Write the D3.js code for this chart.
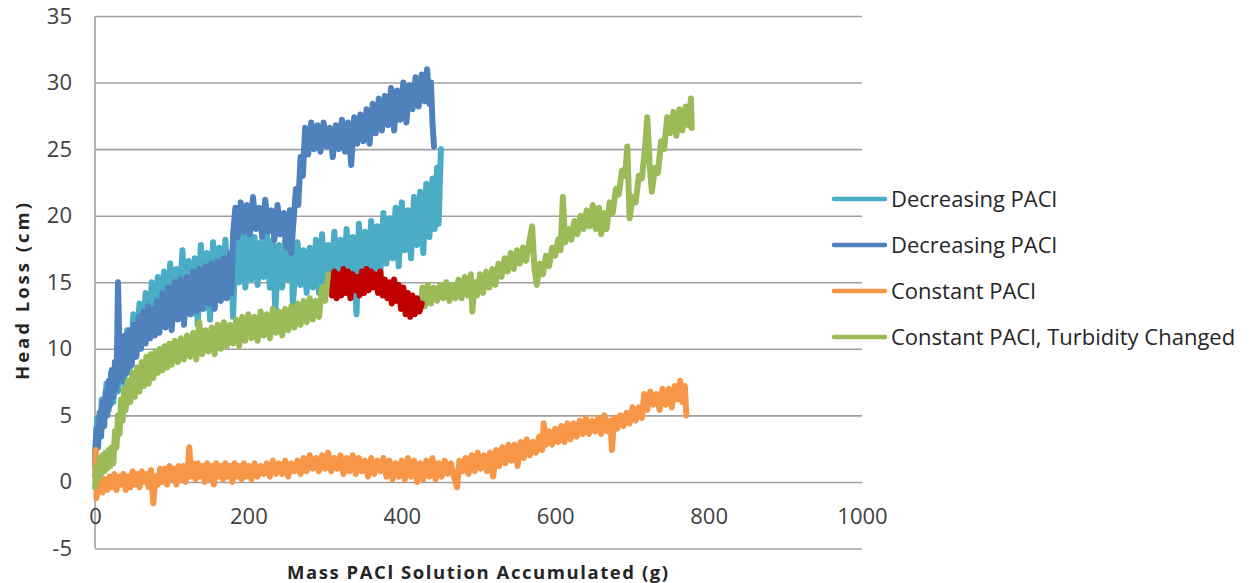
<!DOCTYPE html>
<html>
<head>
<meta charset="utf-8">
<script src="https://cdn.jsdelivr.net/npm/d3@7"></script>
<style>
  html, body { margin: 0; padding: 0; background: #fff; }
  svg { display: block; }
  .tick text { font-family: "Open Sans", "Noto Sans", sans-serif; fill: #404040; }
</style>
</head>
<body>
<svg id="chart" width="1250" height="583"></svg>
<script>
// Head loss (cm) against accumulated PACl solution mass (g)
const seriesNames = ["Decreasing PACl", "Decreasing PACl", "Constant PACl", "Constant PACl, Turbidity Changed"];
const seriesColors = ["#4BACC6", "#4F81BD", "#F79646", "#9BBB59"];
const segmentColor = "#C00000";

const xTicks = [0, 200, 400, 600, 800, 1000];
const yTicks = [-5, 0, 5, 10, 15, 20, 25, 30, 35];

// Decreasing PACl, first run
const decreasingA = [[0,2.2],[3,4.8],[6,3.6],[9,6.2],[12,4.6],[15,7.4],[18,5.4],[21,8.2],[24,6.0],[27,9.0],[30,6.8],[34,10.2],[38,7.4],[42,11.4],[46,8.6],[50,12.6],[54,9.8],[58,13.4],[62,10.6],[66,14.2],[70,11.2],[74,15.0],[78,11.6],[82,15.4],[86,12.4],[90,15.8],[94,12.0],[98,16.4],[102,12.8],[106,16.0],[110,13.0],[114,17.4],[118,13.2],[122,16.6],[126,12.6],[130,16.8],[134,11.8],[138,17.8],[142,13.0],[146,17.2],[150,12.2],[154,18.0],[158,13.6],[162,17.6],[166,13.8],[170,18.2],[174,14.4],[178,17.0],[180,12.4],[184,18.8],[188,15.0],[192,19.2],[196,14.6],[200,18.6],[204,15.2],[208,18.4],[212,14.8],[216,18.0],[220,15.4],[224,18.6],[228,14.6],[232,18.2],[235,12.8],[240,17.8],[244,14.6],[248,18.4],[252,15.2],[256,17.6],[258,13.4],[264,18.0],[268,14.8],[272,17.4],[276,14.2],[280,17.6],[284,14.6],[288,18.2],[292,14.2],[296,18.6],[300,15.0],[304,17.8],[308,14.6],[312,18.8],[316,15.2],[320,18.2],[324,15.0],[328,19.0],[332,15.4],[336,18.4],[341,12.6],[344,19.4],[348,15.8],[352,18.8],[356,15.2],[360,19.6],[364,16.0],[368,19.2],[372,15.6],[376,20.2],[380,16.4],[384,19.8],[388,16.8],[392,20.6],[396,16.2],[400,21.0],[404,17.4],[408,20.4],[412,16.8],[416,21.4],[420,17.8],[424,21.8],[428,17.2],[432,22.4],[436,18.4],[440,22.8],[443,19.0],[446,23.6],[448,19.4],[451,25.0]];

// Decreasing PACl, second run
const decreasingB = [[0,1.2],[2,4.0],[4,2.6],[6,5.2],[8,3.4],[10,6.0],[12,4.2],[14,6.8],[16,5.0],[18,7.6],[20,5.8],[22,8.4],[24,6.4],[26,9.0],[28,7.0],[30,15.0],[32,9.6],[34,10.4],[36,7.6],[39,11.0],[42,8.2],[45,11.4],[48,8.8],[51,11.8],[54,9.4],[57,12.4],[60,10.0],[63,12.8],[66,10.4],[69,13.2],[72,10.8],[75,13.0],[78,11.0],[81,13.6],[84,11.2],[88,14.2],[92,11.6],[96,14.6],[100,11.4],[104,15.0],[108,12.2],[112,15.2],[116,11.8],[120,15.4],[124,12.6],[128,15.8],[132,12.8],[136,16.0],[140,13.0],[144,16.2],[148,13.4],[152,16.4],[156,13.0],[160,16.6],[164,13.6],[168,16.8],[172,13.8],[176,17.2],[178,14.2],[180,18.6],[183,20.6],[186,18.4],[190,21.0],[194,18.8],[198,20.8],[202,18.6],[206,21.4],[210,19.0],[214,20.6],[218,18.4],[222,21.2],[226,18.8],[230,20.4],[234,18.2],[238,20.8],[242,18.6],[246,20.2],[250,17.6],[254,20.4],[256,17.2],[258,19.0],[262,22.0],[265,20.8],[268,24.4],[271,23.0],[274,26.6],[278,24.6],[282,27.0],[286,25.0],[290,26.8],[294,24.8],[298,27.0],[302,25.2],[306,26.6],[310,24.4],[314,26.8],[318,25.0],[322,27.2],[326,24.8],[330,27.0],[334,23.8],[338,27.4],[342,25.4],[346,27.6],[350,25.6],[354,28.0],[358,25.4],[362,28.4],[366,26.2],[370,28.8],[374,26.4],[378,29.0],[382,26.8],[386,29.6],[390,26.4],[394,29.4],[398,27.2],[402,30.0],[406,27.0],[410,29.8],[414,28.0],[418,30.4],[422,28.2],[426,30.6],[430,28.6],[433,31.0],[436,28.4],[438,30.0],[440,27.0],[442,25.2]];

// Constant PACl
const constant = [[0,0.4],[1,2.4],[2,-1.2],[4,-0.4],[7,0.4],[10,-0.8],[13,0.2],[16,-0.6],[19,0.4],[22,-0.4],[25,0.6],[28,-0.6],[31,0.4],[34,-0.2],[37,0.6],[40,-0.6],[43,0.4],[46,-0.4],[49,0.8],[52,-0.2],[55,0.6],[58,-0.4],[61,0.8],[64,0.0],[67,0.6],[70,-0.4],[73,0.9],[76,-1.6],[79,0.4],[82,-0.2],[85,1.0],[88,0.0],[91,1.0],[94,-0.2],[97,1.2],[100,0.2],[103,1.0],[106,-0.2],[109,1.2],[112,0.2],[115,1.2],[118,0.0],[121,1.0],[123,2.6],[125,0.4],[128,1.4],[131,0.2],[134,1.4],[137,0.4],[140,1.2],[143,0.0],[146,1.4],[149,0.2],[152,1.2],[155,-0.2],[158,1.4],[161,0.4],[164,1.2],[167,0.2],[170,1.4],[173,0.4],[176,1.2],[179,0.0],[182,1.4],[185,0.4],[188,1.2],[191,0.2],[194,1.4],[197,0.4],[200,1.2],[204,0.2],[208,1.4],[212,0.4],[216,1.2],[220,0.6],[224,1.4],[228,0.4],[232,1.6],[236,0.6],[240,1.4],[244,0.6],[248,1.6],[252,0.4],[256,1.4],[260,0.8],[264,1.6],[268,0.6],[272,1.8],[276,0.8],[280,2.0],[284,1.0],[288,1.8],[292,0.8],[296,2.0],[300,1.0],[304,2.2],[308,0.8],[312,1.8],[316,1.0],[320,2.0],[324,0.6],[328,1.8],[332,0.8],[336,2.0],[340,0.6],[344,1.8],[348,0.8],[352,1.6],[356,0.4],[360,1.8],[364,0.6],[368,1.6],[372,0.8],[376,1.8],[380,0.4],[384,1.6],[388,0.2],[392,1.4],[396,0.4],[400,1.6],[404,0.2],[408,1.8],[412,0.4],[416,1.6],[420,0.0],[424,1.4],[428,0.2],[432,1.6],[436,0.4],[440,1.8],[444,0.2],[448,1.4],[452,0.4],[456,1.6],[460,0.6],[464,1.4],[468,0.4],[472,-0.4],[475,1.6],[479,0.8],[483,1.8],[487,0.6],[491,2.0],[495,0.8],[499,2.2],[503,1.0],[507,2.0],[511,0.8],[515,2.2],[519,0.4],[523,2.4],[527,1.2],[531,2.6],[535,1.4],[539,2.8],[543,1.6],[547,2.8],[551,1.2],[555,3.0],[559,1.8],[563,3.2],[567,2.0],[571,3.0],[575,2.2],[579,3.4],[583,2.4],[585,4.4],[588,2.8],[592,3.8],[596,2.8],[600,4.0],[604,3.0],[608,4.2],[612,3.0],[616,4.4],[620,3.2],[624,4.4],[628,3.4],[632,4.6],[636,3.6],[640,4.8],[644,3.6],[648,4.6],[652,3.8],[656,4.8],[660,3.6],[664,5.0],[668,3.8],[672,4.6],[674,2.4],[677,4.8],[681,4.0],[685,5.0],[689,4.2],[693,5.2],[697,4.4],[701,5.6],[705,4.6],[709,5.6],[713,4.8],[716,6.6],[720,5.4],[724,6.8],[728,5.8],[732,6.6],[736,5.4],[740,7.0],[744,5.8],[748,7.0],[752,5.6],[756,7.2],[760,6.2],[763,7.6],[766,6.0],[769,7.2],[771,5.0]];

// Constant PACl with turbidity changed (before and after the highlighted span)
const turbidityEarly = [[0,-0.4],[2,1.2],[4,0.2],[6,1.8],[8,0.6],[10,2.0],[12,0.8],[14,2.2],[16,1.0],[18,2.4],[20,1.2],[22,2.6],[24,1.4],[26,3.8],[28,2.6],[30,5.0],[32,3.6],[34,6.2],[36,4.6],[38,7.0],[40,5.4],[43,7.6],[46,6.0],[49,8.2],[52,6.4],[55,8.6],[58,6.8],[61,9.0],[64,7.2],[67,9.4],[70,7.4],[73,9.6],[76,7.8],[79,9.8],[82,8.2],[85,10.0],[88,8.4],[91,10.2],[94,8.6],[97,10.4],[100,8.8],[104,10.6],[108,9.0],[112,10.8],[116,9.2],[120,11.0],[124,9.4],[128,11.2],[132,9.2],[136,12.0],[140,9.6],[144,11.4],[148,9.8],[152,11.6],[156,9.6],[160,11.8],[164,10.0],[168,12.0],[172,10.2],[176,11.8],[180,10.4],[184,12.2],[188,10.2],[192,12.4],[196,10.6],[200,12.6],[204,10.8],[208,12.4],[212,10.6],[216,12.8],[220,11.0],[224,12.6],[228,10.8],[232,13.0],[236,11.2],[240,12.8],[244,11.0],[248,13.0],[252,11.4],[256,13.2],[260,11.6],[264,13.4],[268,11.8],[272,13.6],[276,12.0],[280,13.8],[284,12.2],[288,13.6],[292,12.4],[296,14.6],[300,13.6],[304,15.6],[306,14.4],[309,15.2]];
const turbidityLate = [[424,13.0],[427,14.6],[430,13.2],[434,14.8],[438,13.4],[442,14.6],[446,13.6],[450,14.8],[454,13.8],[458,15.0],[462,13.6],[466,14.8],[470,13.8],[474,15.2],[478,13.8],[482,15.4],[486,14.0],[490,15.6],[492,12.8],[495,15.0],[498,14.0],[502,15.6],[506,14.2],[510,15.8],[514,14.6],[518,16.0],[522,14.8],[526,16.4],[530,15.4],[534,16.8],[538,15.8],[542,17.2],[546,16.0],[550,17.4],[554,16.4],[558,17.6],[562,16.6],[566,18.0],[570,19.2],[573,16.0],[576,14.8],[580,16.4],[584,15.6],[588,17.0],[592,16.2],[596,17.6],[600,17.0],[604,18.2],[607,17.4],[610,21.4],[613,18.0],[617,19.0],[621,18.2],[625,19.6],[629,18.6],[633,20.0],[637,19.0],[641,20.4],[645,19.2],[649,20.8],[653,19.0],[657,20.6],[660,18.6],[664,20.2],[667,19.0],[671,21.0],[675,20.2],[679,22.0],[683,21.6],[687,23.4],[691,23.0],[694,25.2],[697,19.8],[701,21.4],[705,21.0],[709,23.0],[713,22.8],[717,25.0],[720,27.4],[723,24.0],[726,21.8],[730,23.6],[734,23.2],[738,25.6],[742,25.0],[746,27.4],[750,26.2],[754,27.8],[758,26.0],[762,28.0],[766,26.4],[770,28.2],[774,26.8],[777,28.8],[778,26.6]];

// Highlighted span of the turbidity run
const turbiditySpan = [[309,14.0],[312,15.8],[315,13.8],[318,15.6],[321,14.0],[324,16.0],[327,14.2],[330,15.8],[333,13.8],[336,15.6],[339,14.4],[342,15.4],[345,14.0],[348,15.8],[351,14.2],[354,16.0],[357,14.4],[360,15.8],[363,14.6],[366,15.6],[369,14.2],[372,15.8],[375,14.0],[378,15.2],[381,13.8],[384,15.0],[387,13.4],[390,15.2],[393,13.6],[396,14.8],[399,13.0],[402,14.6],[405,12.6],[408,14.2],[411,12.4],[414,14.0],[417,12.6],[420,13.8],[423,12.8],[426,13.4]];

const svg = d3.select("#chart");
const plotLeft = 95, plotRight = 862, plotTop = 16, plotBottom = 548.5;

const x = d3.scaleLinear().domain([0, 1000]).range([plotLeft, plotRight]);
const y = d3.scaleLinear().domain([-5, 35]).range([plotBottom, plotTop]);

const gridColor = "#a0a0a0";
const tickFont = 22;

// horizontal gridlines with value labels
const yAxis = svg.append("g")
  .attr("transform", `translate(${plotLeft},0)`)
  .call(d3.axisLeft(y).tickValues(yTicks).tickSize(-(plotRight - plotLeft)).tickPadding(23).tickFormat(d => String(d)));
yAxis.select(".domain").remove();
yAxis.selectAll(".tick line").attr("stroke", gridColor).attr("stroke-width", 1.6);
yAxis.selectAll(".tick text").attr("font-size", tickFont);

// vertical axis line
svg.append("line")
  .attr("x1", plotLeft).attr("x2", plotLeft).attr("y1", plotTop).attr("y2", plotBottom)
  .attr("stroke", gridColor).attr("stroke-width", 1.6);

// horizontal axis labels sit below the zero line
const xAxis = svg.append("g")
  .attr("transform", `translate(0,${y(0)})`)
  .call(d3.axisBottom(x).tickValues(xTicks).tickSize(0).tickPadding(26).tickFormat(d => String(d)));
xAxis.select(".domain").remove();
xAxis.selectAll(".tick text").attr("font-size", tickFont);

// axis titles
svg.append("text")
  .attr("x", 287).attr("y", 579)
  .attr("textLength", 381).attr("lengthAdjust", "spacing")
  .attr("font-family", "'Open Sans', sans-serif").attr("font-weight", "bold")
  .attr("font-size", 18.5).attr("fill", "#262626")
  .text("Mass PACl Solution Accumulated (g)");

svg.append("text")
  .attr("transform", "translate(29,380) rotate(-90)")
  .attr("textLength", 177).attr("lengthAdjust", "spacing")
  .attr("font-family", "'Open Sans', sans-serif").attr("font-weight", "bold")
  .attr("font-size", 18.5).attr("fill", "#262626")
  .text("Head Loss (cm)");

// series
const line = d3.line().x(d => x(d[0])).y(d => y(d[1]));
const plot = svg.append("g").attr("fill", "none")
  .attr("stroke-linejoin", "round").attr("stroke-linecap", "round");

const layers = [
  { data: decreasingA, color: seriesColors[0] },
  { data: decreasingB, color: seriesColors[1] },
  { data: constant, color: seriesColors[2] },
  { data: turbidityEarly, color: seriesColors[3] },
  { data: turbidityLate, color: seriesColors[3] },
  { data: turbiditySpan, color: segmentColor }
];
plot.selectAll("path").data(layers).join("path")
  .attr("d", d => line(d.data))
  .attr("stroke", d => d.color)
  .attr("stroke-width", 6);

// legend
const legendRows = [199, 245, 291, 337];
const legend = svg.append("g");
seriesNames.forEach((name, i) => {
  const g = legend.append("g").attr("transform", `translate(0,${legendRows[i]})`);
  g.append("line").attr("x1", 834).attr("x2", 885).attr("y1", 0).attr("y2", 0)
    .attr("stroke", seriesColors[i]).attr("stroke-width", 4.5).attr("stroke-linecap", "round");
  g.append("text").attr("x", 891).attr("y", 0).attr("dy", "0.35em")
    .attr("font-family", "'Open Sans', sans-serif").attr("font-size", 22).attr("fill", "#262626")
    .text(name);
});
</script>
</body>
</html>
